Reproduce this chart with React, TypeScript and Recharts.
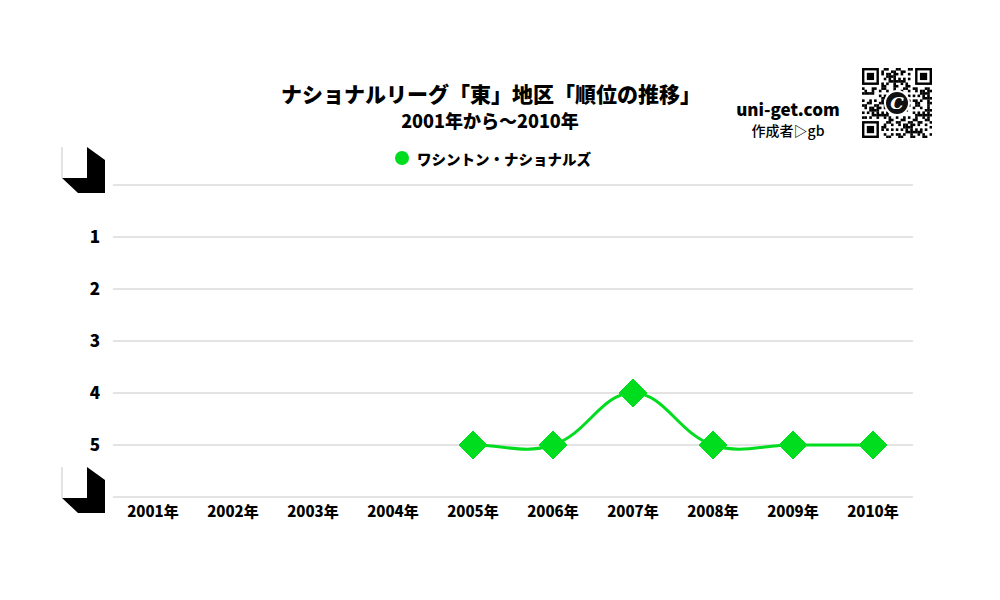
import React from "react";
import { LineChart, Line, XAxis, YAxis, CartesianGrid } from "recharts";

const years = ["2001年", "2002年", "2003年", "2004年", "2005年", "2006年", "2007年", "2008年", "2009年", "2010年"];
const nationalsRank: (number | null)[] = [null, null, null, null, 5, 5, 4, 5, 5, 5];
const yTicks = [0, 1, 2, 3, 4, 5, 6];
const seriesName = "ワシントン・ナショナルズ";
const titleText = "ナショナルリーグ「東」地区「順位の推移」";
const subtitleText = "2001年から～2010年";

const data = years.map((y, i) => ({ year: y, rank: nationalsRank[i] }));

const GREEN = "#00DC1E";
const FONT = "'Noto Sans CJK JP', 'Noto Sans', sans-serif";

// Chart.js-like spline curve (tension 0.4)
function splineCurve(context: any) {
  let pts: [number, number][] = [];
  return {
    areaStart() {},
    areaEnd() {},
    lineStart() {
      pts = [];
    },
    point(x: number, y: number) {
      pts.push([+x, +y]);
    },
    lineEnd() {
      const n = pts.length;
      if (!n) return;
      context.moveTo(pts[0][0], pts[0][1]);
      if (n === 1) return;
      const t = 0.4;
      const cps = pts.map((p, i) => {
        const prev = pts[i - 1] || p;
        const next = pts[i + 1] || p;
        const d01 = Math.hypot(p[0] - prev[0], p[1] - prev[1]);
        const d12 = Math.hypot(next[0] - p[0], next[1] - p[1]);
        let s01 = d01 / (d01 + d12);
        let s12 = d12 / (d01 + d12);
        if (!isFinite(s01)) s01 = 0;
        if (!isFinite(s12)) s12 = 0;
        const fa = t * s01;
        const fb = t * s12;
        return {
          prev: [p[0] - fa * (next[0] - prev[0]), p[1] - fa * (next[1] - prev[1])],
          next: [p[0] + fb * (next[0] - prev[0]), p[1] + fb * (next[1] - prev[1])],
        };
      });
      for (let i = 0; i < n - 1; i++) {
        context.bezierCurveTo(cps[i].next[0], cps[i].next[1], cps[i + 1].prev[0], cps[i + 1].prev[1], pts[i + 1][0], pts[i + 1][1]);
      }
    },
  };
}

const DiamondDot = (props: any) => {
  const { cx, cy, value, index } = props;
  if (value == null || cx == null || cy == null) return <g key={`d-${index}`} />;
  const r = 14;
  return (
    <path
      key={`d-${index}`}
      d={`M${cx},${cy - r}L${cx + r},${cy}L${cx},${cy + r}L${cx - r},${cy}Z`}
      fill={GREEN}
      stroke={GREEN}
      strokeWidth={1}
    />
  );
};

const CornerShape = ({ c }: { c: number }) => (
  <g>
    <line x1={62} y1={c - 31} x2={62} y2={c} stroke="#c8c8c8" strokeWidth={1} />
    <polygon points={`87,${c - 31} 105,${c - 18} 105,${c + 15} 78,${c + 15} 62,${c} 87,${c}`} fill="#000" />
  </g>
);

const YTick = (props: any) => {
  const { y, payload } = props;
  if (payload.value === 0) return <CornerShape c={y - 7} />;
  if (payload.value === 6) return <CornerShape c={y + 1} />;
  return (
    <text x={95} y={y} dy={6} textAnchor="middle" fontFamily={FONT} fontWeight={900} fontSize={17} fill="#000">
      {payload.value}
    </text>
  );
};

const XTick = (props: any) => {
  const { x, y, payload } = props;
  return (
    <text x={x} y={y} dy={12} textAnchor="middle" fontFamily={FONT} fontWeight={900} fontSize={15} fill="#000">
      {payload.value}
    </text>
  );
};

const QRCode = () => {
  const N = 29;
  const m = 70 / N;
  const cells: React.ReactElement[] = [];
  const inFinder = (i: number, j: number) =>
    (i < 8 && j < 8) || (i < 8 && j >= N - 8) || (i >= N - 8 && j < 8);
  for (let i = 0; i < N; i++) {
    for (let j = 0; j < N; j++) {
      if (inFinder(i, j)) continue;
      const v = (i * 31 + j * 17 + ((i * j) % 7)) % 5;
      if (v === 0 || v === 3) {
        cells.push(<rect key={`${i}-${j}`} x={j * m} y={i * m} width={m + 0.2} height={m + 0.2} fill="#000" />);
      }
    }
  }
  const finder = (fx: number, fy: number, k: string) => (
    <g key={k}>
      <rect x={fx * m} y={fy * m} width={7 * m} height={7 * m} fill="#000" />
      <rect x={(fx + 1) * m} y={(fy + 1) * m} width={5 * m} height={5 * m} fill="#fff" />
      <rect x={(fx + 2) * m} y={(fy + 2) * m} width={3 * m} height={3 * m} fill="#000" />
    </g>
  );
  return (
    <svg width={70} height={70} style={{ position: "absolute", left: 862, top: 68 }}>
      <rect width={70} height={70} fill="#fff" />
      {cells}
      {finder(0, 0, "a")}
      {finder(N - 7, 0, "b")}
      {finder(0, N - 7, "c")}
      <circle cx={35} cy={35} r={13} fill="#fff" />
      <circle cx={35} cy={35} r={11} fill="#111" />
      <text x={35} y={41} textAnchor="middle" fontFamily="'DejaVu Serif', serif" fontStyle="italic" fontWeight={700} fontSize={17} fill="#fff">
        C
      </text>
    </svg>
  );
};

export default function App() {
  return (
    <div style={{ position: "absolute", left: 0, top: 0, width: 1000, height: 600, background: "#fff", fontFamily: FONT }}>
      <LineChart width={1000} height={600} data={data} margin={{ top: 185, right: 87, bottom: 73, left: 63 }}>
        <CartesianGrid vertical={false} stroke="#c8c8c8" />
        <XAxis
          dataKey="year"
          axisLine={false}
          tickLine={false}
          tick={<XTick />}
          interval={0}
          height={30}
          padding={{ left: 40, right: 40 }}
        />
        <YAxis
          reversed
          domain={[0, 6]}
          ticks={yTicks}
          type="number"
          axisLine={false}
          tickLine={false}
          tick={<YTick />}
          width={50}
          interval={0}
        />
        <Line
          dataKey="rank"
          type={splineCurve as any}
          stroke={GREEN}
          strokeWidth={3}
          dot={DiamondDot}
          activeDot={false}
          isAnimationActive={false}
        />
      </LineChart>
      <div style={{ position: "absolute", left: 0, width: 982, top: 79, textAlign: "center", fontSize: 21, fontWeight: 900, color: "#000", lineHeight: "28px" }}>
        {titleText}
      </div>
      <div style={{ position: "absolute", left: 0, width: 980, top: 107, textAlign: "center", fontSize: 18, fontWeight: 900, color: "#000", lineHeight: "26px" }}>
        {subtitleText}
      </div>
      <div style={{ position: "absolute", left: 395, top: 148, display: "flex", alignItems: "center", height: 20 }}>
        <span style={{ display: "inline-block", width: 14, height: 14, borderRadius: 7, background: GREEN, marginRight: 8 }} />
        <span style={{ fontSize: 14.5, fontWeight: 900, color: "#000" }}>{seriesName}</span>
      </div>
      <div style={{ position: "absolute", left: 718, width: 140, top: 98, textAlign: "center", fontSize: 17, fontWeight: 900, color: "#000", lineHeight: "22px" }}>
        uni-get.com
      </div>
      <div style={{ position: "absolute", left: 718, width: 140, top: 120, textAlign: "center", fontSize: 14, fontWeight: 500, color: "#000", lineHeight: "20px" }}>
        作成者▷gb
      </div>
      <QRCode />
    </div>
  );
}
